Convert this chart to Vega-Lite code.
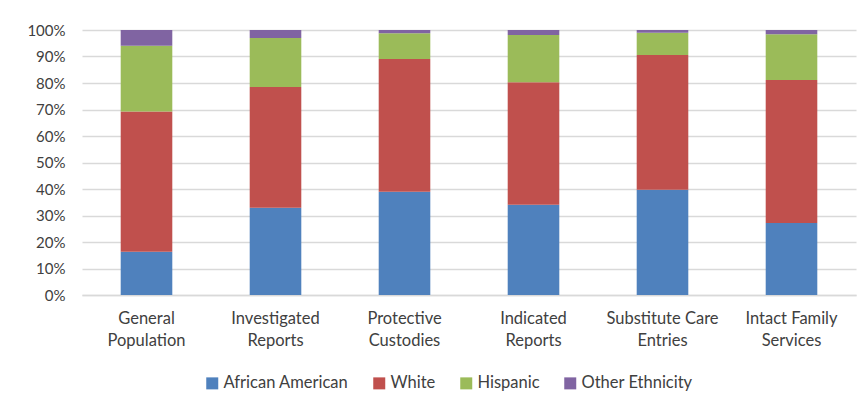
{
  "$schema": "https://vega.github.io/schema/vega-lite/v6.json",
  "width": 774,
  "height": 265,
  "padding": {"left": 26, "top": 23, "right": 5, "bottom": 5},
  "background": "white",
  "config": {
    "font": "Lato",
    "view": {"stroke": null},
    "axis": {"labelFont": "Lato", "labelColor": "#404040"},
    "legend": {"labelFont": "Lato", "labelFontSize": 16.5, "labelColor": "#404040"}
  },
  "data": {
    "values": [
      {"category": "General Population", "ethnicity": "African American", "pct": 16.3},
      {"category": "General Population", "ethnicity": "White", "pct": 52.9},
      {"category": "General Population", "ethnicity": "Hispanic", "pct": 24.9},
      {"category": "General Population", "ethnicity": "Other Ethnicity", "pct": 5.9},
      {"category": "Investigated Reports", "ethnicity": "African American", "pct": 32.9},
      {"category": "Investigated Reports", "ethnicity": "White", "pct": 45.6},
      {"category": "Investigated Reports", "ethnicity": "Hispanic", "pct": 18.5},
      {"category": "Investigated Reports", "ethnicity": "Other Ethnicity", "pct": 3.0},
      {"category": "Protective Custodies", "ethnicity": "African American", "pct": 39.0},
      {"category": "Protective Custodies", "ethnicity": "White", "pct": 50.1},
      {"category": "Protective Custodies", "ethnicity": "Hispanic", "pct": 9.7},
      {"category": "Protective Custodies", "ethnicity": "Other Ethnicity", "pct": 1.2},
      {"category": "Indicated Reports", "ethnicity": "African American", "pct": 34.1},
      {"category": "Indicated Reports", "ethnicity": "White", "pct": 46.2},
      {"category": "Indicated Reports", "ethnicity": "Hispanic", "pct": 17.8},
      {"category": "Indicated Reports", "ethnicity": "Other Ethnicity", "pct": 1.9},
      {"category": "Substitute Care Entries", "ethnicity": "African American", "pct": 39.7},
      {"category": "Substitute Care Entries", "ethnicity": "White", "pct": 50.9},
      {"category": "Substitute Care Entries", "ethnicity": "Hispanic", "pct": 8.4},
      {"category": "Substitute Care Entries", "ethnicity": "Other Ethnicity", "pct": 1.0},
      {"category": "Intact Family Services", "ethnicity": "African American", "pct": 27.2},
      {"category": "Intact Family Services", "ethnicity": "White", "pct": 53.9},
      {"category": "Intact Family Services", "ethnicity": "Hispanic", "pct": 17.3},
      {"category": "Intact Family Services", "ethnicity": "Other Ethnicity", "pct": 1.6}
    ]
  },
  "transform": [
    {"calculate": "indexof(['African American', 'White', 'Hispanic', 'Other Ethnicity'], datum.ethnicity)", "as": "stackOrder"}
  ],
  "mark": {"type": "bar"},
  "encoding": {
    "x": {
      "field": "category",
      "type": "nominal",
      "sort": null,
      "scale": {"paddingInner": 0.6, "paddingOuter": 0.3},
      "axis": {
        "title": null,
        "labelAngle": 0,
        "labelFontSize": 16.5,
        "ticks": false,
        "domainColor": "#D9D9D9",
        "domainWidth": 1.5,
        "labelPadding": 15,
        "labelLineHeight": 22,
        "labelExpr": "[substring(datum.label, 0, lastindexof(datum.label, ' ')), substring(datum.label, lastindexof(datum.label, ' ') + 1)]"
      }
    },
    "y": {
      "field": "pct",
      "type": "quantitative",
      "stack": "zero",
      "scale": {"domain": [0, 100]},
      "axis": {
        "title": null,
        "labelFontSize": 15,
        "values": [0, 10, 20, 30, 40, 50, 60, 70, 80, 90, 100],
        "labelExpr": "datum.value + '%'",
        "labelOverlap": false,
        "domain": false,
        "ticks": false,
        "gridColor": "#D9D9D9",
        "gridWidth": 1.5,
        "labelPadding": 17
      }
    },
    "order": {"field": "stackOrder", "type": "quantitative", "sort": "ascending"},
    "color": {
      "field": "ethnicity",
      "type": "nominal",
      "sort": ["African American", "White", "Hispanic", "Other Ethnicity"],
      "scale": {
        "domain": ["African American", "White", "Hispanic", "Other Ethnicity"],
        "range": ["#4F81BD", "#C0504D", "#9BBB59", "#8064A2"]
      },
      "legend": {
        "title": null,
        "orient": "none",
        "legendX": 122,
        "legendY": 345,
        "direction": "horizontal",
        "symbolType": "square",
        "symbolSize": 144,
        "symbolStrokeWidth": 0,
        "labelOffset": 3,
        "columnPadding": 22
      }
    }
  }
}
